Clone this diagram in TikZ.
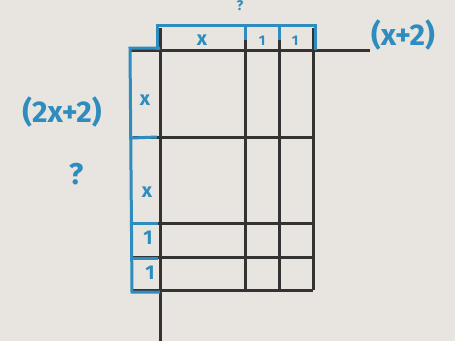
\documentclass[tikz,border=0pt]{standalone}
\usepackage{fontspec}
\setmainfont{Fira Sans}
\definecolor{paper}{HTML}{E8E5E0}
\definecolor{pen}{HTML}{2E8DBE}
\definecolor{ink}{HTML}{333333}
\begin{document}
\begin{tikzpicture}[x=1pt,y=-1pt,
  grid/.style={ink,line width=3pt},
  bluebox/.style={pen,line width=3pt},
  lbl/.style={pen,font=\fontsize{30}{32}\selectfont\bfseries,inner sep=0pt},
  small/.style={pen,font=\fontsize{20}{21}\selectfont\bfseries,inner sep=0pt},
  tiny/.style={pen,font=\fontsize{14}{15}\selectfont\bfseries,inner sep=0pt}]
\fill[paper] (0,0) rectangle (455,341);
\useasboundingbox (0,0) rectangle (455,341);
% grid
\draw[grid] (131,50) -- (370,50);
\draw[grid] (160,28) -- (160,341);
\draw[grid] (245,28) -- (245,290);
\draw[grid] (279,28) -- (279,290);
\draw[grid] (313,28) -- (313,290);
\draw[grid] (133,137) -- (313,137);
\draw[grid] (133,223) -- (313,223);
\draw[grid] (133,257) -- (313,257);
\draw[grid] (133,290) -- (313,290);
% blue boxes
\draw[bluebox] (157,50) -- (157,25) -- (315,25) -- (315,50);
\draw[bluebox] (245,25) -- (245,40);
\draw[bluebox] (279,25) -- (279,40);
\draw[bluebox] (160,48) -- (130,48) -- (132,292) -- (160,292);
\draw[bluebox] (132,138) -- (157,137);
\draw[bluebox] (133,223) -- (158,223);
\draw[bluebox] (133,258) -- (158,258);
% labels
\node[small] (tx) at (202,40) {x};
\node[tiny] (t1) at (262,41) {1};
\node[tiny] (t2) at (295,41) {1};
\node[tiny] (tq) at (240,6) {?};
\node[small] (lx1) at (145,100) {x};
\node[small] (lx2) at (147,192) {x};
\node[small] (l1) at (148,238) {1};
\node[small] (l2) at (150,273) {1};
\node[lbl] (w) at (403,35) {(x+2)};
\node[lbl] (h) at (62,112) {(2x+2)};
\node[lbl] (q) at (76,174) {?};
\end{tikzpicture}
\end{document}
